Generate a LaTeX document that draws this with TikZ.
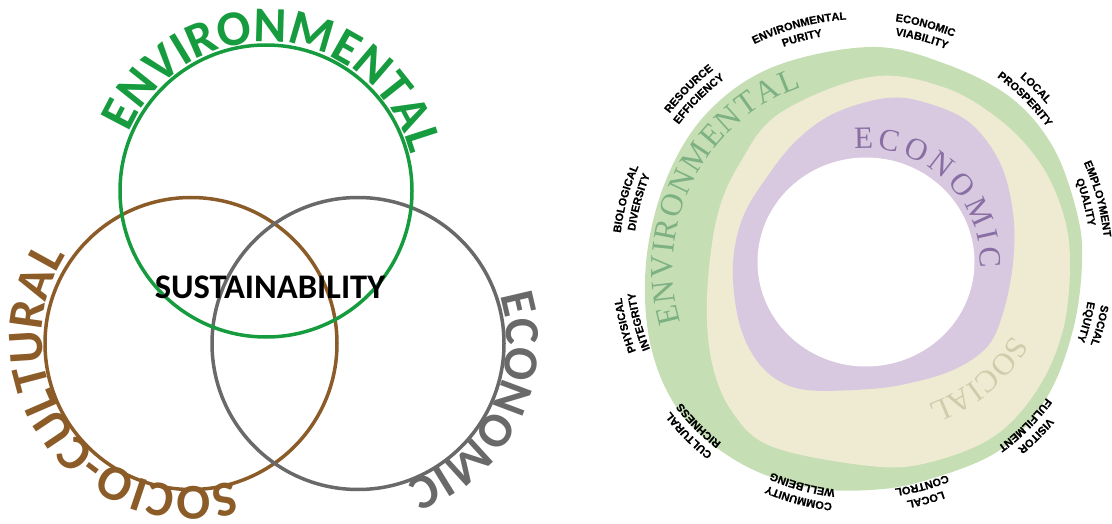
\documentclass[tikz,border=0pt]{standalone}
\usepackage{fontspec}
\usetikzlibrary{decorations.text,calc}
\newfontfamily\calib{Carlito}
\newfontfamily\sansb{Liberation Sans}[BoldFeatures={FakeBold=0.4}]
\newfontfamily\serifw{Liberation Serif}

\definecolor{envgreen}{RGB}{22,155,62}
\definecolor{socbrown}{RGB}{140,92,40}
\definecolor{ecogray}{RGB}{105,105,105}
\definecolor{bandgreen}{RGB}{197,222,180}
\definecolor{bandcream}{RGB}{238,235,210}
\definecolor{bandpurple}{RGB}{216,200,224}
\definecolor{txtgreen}{RGB}{125,176,131}
\definecolor{txtpurple}{RGB}{136,110,162}
\definecolor{txtcream}{RGB}{206,204,170}

\tikzset{
  ring/.style={circle, draw=#1, line width=3.5pt, minimum size=292pt, inner sep=0pt},
}

% text set on a clockwise arc: centre, radius, start angle, end angle, alignment, format, text
\newcommand\arcwords[7]{%
  \path[decorate, decoration={text along path, text align={#5}, text={|#6|#7}}]
    ([shift={(#3:#2)}]#1) arc[start angle=#3, end angle=#4, radius=#2];
}
% two-line label around the wheel: angle, outer line, inner line
\newcommand\lblfmt{\sansb\bfseries\fontsize{11}{13}\selectfont\color{black}}
\newcommand\wheellabel[3]{%
  \arcwords{wc}{243pt}{#1+28}{#1-28}{center}{\lblfmt}{#2}
  \arcwords{wc}{229pt}{#1+28}{#1-28}{center}{\lblfmt}{#3}
}

\begin{document}
\begin{tikzpicture}[x=1pt,y=1pt]
\useasboundingbox (0,0) rectangle (1112,523);

% ---------- three overlapping circles ----------
\node[ring=socbrown] (soc) at (191,179.5) {};
\node[ring=ecogray]  (eco) at (358,179.5) {};
\node[ring=envgreen] (env) at (266,332) {};

\node[font=\calib\bfseries\fontsize{34.5}{40}\selectfont, inner sep=0pt] (sus) at (270,236) {SUSTAINABILITY};

% the arched words sit on circles slightly lifted from the rings
\coordinate (envt) at (266,332);
\coordinate (soct) at (192,186);
\coordinate (ecot) at (358,182);
\arcwords{envt}{149pt}{175.5}{-4.5}{center}{\calib\bfseries\fontsize{50}{60}\selectfont\color{envgreen}}{ENVIRONMENTAL}
\arcwords{soct}{150pt}{-53.5}{-233.5}{center}{\calib\bfseries\fontsize{50}{60}\selectfont\color{socbrown}}{SOCIO-CULTURAL}
\arcwords{ecot}{149pt}{63.4}{-116.6}{center}{\calib\bfseries\fontsize{49}{60}\selectfont\color{ecogray}}{ECONOMIC}

% ---------- nested bands ----------
\coordinate (wc) at (862,261);
\coordinate (gb) at (864,255);
\coordinate (pb) at (866,260);
\coordinate (cb) at (875,268);

\fill[bandgreen] plot[smooth cycle, tension=0.6] coordinates {
  (870,476) (943,460) (1010,426) (1053,376) (1077,310) (1082,260) (1073,193)
  (1047,126) (1000,73) (927,43) (870,33) (807,36) (740,60) (682,108)
  (651,176) (646,260) (666,343) (707,410) (773,456)};
\fill[bandcream] plot[smooth cycle, tension=0.6] coordinates {
  (870,446) (943,436) (1000,403) (1040,360) (1063,310) (1070,260) (1063,193)
  (1037,133) (993,86) (927,60) (870,57) (773,76) (733,110) (712,160)
  (707,226) (717,306) (740,360) (780,410)};
\fill[bandpurple] plot[smooth cycle, tension=0.6] coordinates {
  (887,425) (927,420) (970,400) (1000,360) (1013,310) (1013,260) (1003,210)
  (987,176) (953,153) (910,140) (870,134) (807,133) (773,146) (750,173)
  (737,210) (733,260) (743,306) (767,346) (797,383) (835,410)};
\fill[white] (866,261) ellipse[x radius=108.5pt, y radius=104.5pt];

\arcwords{gb}{191.4pt}{196.6}{109.1}{fit to path}{\serifw\fontsize{32}{36}\selectfont\color{txtgreen}}{ENVIRONMENTAL}
\arcwords{pb}{114.2pt}{95.8}{-2.4}{fit to path}{\serifw\fontsize{31}{36}\selectfont\color{txtpurple}}{ECONOMIC}
\arcwords{cb}{159pt}{-20.4}{-80.4}{center}{\serifw\fontsize{31}{36}\selectfont\color{txtcream}}{SOCIAL}

% ---------- labels round the wheel ----------
\wheellabel{105}{ENVIRONMENTAL}{PURITY}
\wheellabel{75}{ECONOMIC}{VIABILITY}
\wheellabel{45}{LOCAL}{PROSPERITY}
\wheellabel{15}{EMPLOYMENT}{QUALITY}
\wheellabel{-15}{SOCIAL}{EQUITY}
\wheellabel{-45}{VISITOR}{FULFILMENT}
\wheellabel{-75}{LOCAL}{CONTROL}
\wheellabel{-105}{COMMUNITY}{WELLBEING}
\wheellabel{-135}{CULTURAL}{RICHNESS}
\wheellabel{-165}{PHYSICAL}{INTEGRITY}
\wheellabel{165}{BIOLOGICAL}{DIVERSITY}
\wheellabel{135}{RESOURCE}{EFFICIENCY}
\end{tikzpicture}
\end{document}
